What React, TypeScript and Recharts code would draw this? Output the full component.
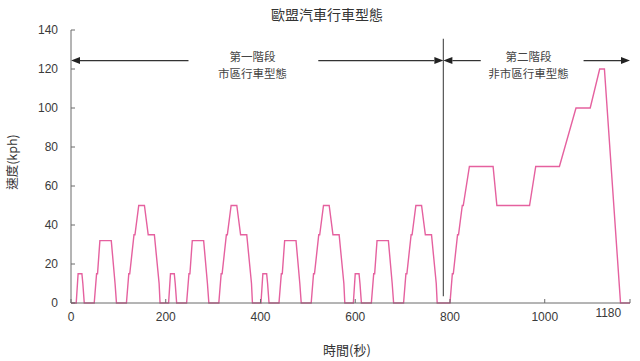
import React from "react";
import { LineChart, Line, XAxis, YAxis, ReferenceLine, ReferenceDot } from "recharts";

// one urban (ECE-15) cycle: breakpoints in seconds / km/h
const urbanTimes = [0, 11, 15, 23, 25, 28, 49, 54, 56, 61, 85, 93, 96, 117, 122, 124, 133, 135, 143, 155, 163, 176, 186, 188, 195];
const urbanSpeeds = [0, 0, 15, 15, 10, 0, 0, 15, 15, 32, 32, 10, 0, 0, 15, 15, 35, 35, 50, 50, 35, 35, 10, 0, 0];
const urbanStarts = [0, 195, 390, 585];

// extra-urban part, starts at 780 s
const extraStart = 780;
const extraTimes = [0, 20, 25, 27, 36, 38, 46, 48, 61, 111, 119, 188, 201, 251, 286, 316, 336, 346, 380, 400];
const extraSpeeds = [0, 0, 15, 15, 35, 35, 50, 50, 70, 70, 50, 50, 70, 70, 100, 100, 120, 120, 0, 0];

const xTicks = [0, 200, 400, 600, 800, 1000, 1180];
const yTicks = [0, 20, 40, 60, 80, 100, 120, 140];

const phaseSplit = 786;

const data: { t: number; v: number }[] = [];
urbanStarts.forEach((s) => {
  urbanTimes.forEach((t, i) => data.push({ t: s + t, v: urbanSpeeds[i] }));
});
extraTimes.forEach((t, i) => data.push({ t: extraStart + t, v: extraSpeeds[i] }));

const cjk = '"Noto Sans CJK TC", "Noto Sans CJK SC", sans-serif';
const latin = '"Liberation Sans", Arial, sans-serif';
const axisColor = "#6b6b6b";

const Arrow = (props: any) => {
  const { x1, y1, x2, y2 } = props;
  const dir = x2 > x1 ? 1 : -1;
  const L = 9;
  const W = 3.5;
  return (
    <g>
      <line x1={x1} y1={y1} x2={x2 - dir * L} y2={y2} stroke="#333" strokeWidth={1.2} />
      <polygon points={`${x2},${y2} ${x2 - dir * L},${y2 - W} ${x2 - dir * L},${y2 + W}`} fill="#222" />
    </g>
  );
};

const PhaseText = (lines: string[]) => (props: any) => {
  const { cx, cy } = props;
  return (
    <text x={cx} y={cy} textAnchor="middle" fontFamily={cjk} fontSize={11.5} fill="#444">
      {lines.map((l, i) => (
        <tspan key={i} x={cx} dy={i === 0 ? 0 : 17}>
          {l}
        </tspan>
      ))}
    </text>
  );
};

const XTick = (props: any) => {
  const { x, y, payload } = props;
  const last = payload.value === 1180;
  return (
    <text x={x + (last ? -16 : 0)} y={y + (last ? 10 : 14)} textAnchor="middle" fontFamily={latin} fontSize={12} fill="#3a3a3a">
      {payload.value}
    </text>
  );
};

export default function App() {
  return (
    <div style={{ position: "absolute", left: 0, top: 0, width: 640, height: 361, background: "#fff" }}>
      <div style={{ position: "absolute", left: 0, width: 654, top: 4, textAlign: "center", fontFamily: cjk, fontSize: 14, color: "#333" }}>
        歐盟汽車行車型態
      </div>
      <div style={{ position: "absolute", left: 0, width: 694, top: 340, textAlign: "center", fontFamily: cjk, fontSize: 13, color: "#333" }}>
        時間(秒)
      </div>
      <div
        style={{
          position: "absolute",
          left: 11,
          top: 162,
          transform: "translate(-50%, -50%) rotate(-90deg)",
          whiteSpace: "nowrap",
          fontFamily: cjk,
          fontSize: 12.5,
          color: "#333",
        }}
      >
        速度(kph)
      </div>
      <LineChart width={640} height={361} data={data} margin={{ top: 30, right: 10, bottom: 28, left: 0 }} style={{ position: "absolute", left: 0, top: 0 }}>
        <XAxis
          dataKey="t"
          type="number"
          domain={[0, 1180]}
          ticks={xTicks}
          tickSize={-4}
          tickMargin={8}
          stroke={axisColor}
          tick={<XTick />}
          height={30}
        />
        <XAxis xAxisId="top" orientation="top" type="number" domain={[0, 1180]} tick={false} tickLine={false} stroke={axisColor} height={0} />
        <YAxis
          type="number"
          domain={[0, 140]}
          ticks={yTicks}
          tickSize={-4}
          tickMargin={17}
          stroke={axisColor}
          width={71}
          tick={{ fontFamily: latin, fontSize: 12, fill: "#3a3a3a" }}
        />
        <YAxis yAxisId="right" orientation="right" domain={[0, 140]} tick={false} tickLine={false} stroke={axisColor} width={0} />
        <ReferenceLine segment={[{ x: phaseSplit, y: 135.5 }, { x: phaseSplit, y: 3.5 }]} stroke="#555" strokeWidth={1.2} />
        <ReferenceLine segment={[{ x: 248, y: 124.3 }, { x: 0, y: 124.3 }]} shape={Arrow} />
        <ReferenceLine segment={[{ x: 522, y: 124.3 }, { x: phaseSplit, y: 124.3 }]} shape={Arrow} />
        <ReferenceLine segment={[{ x: 865, y: 124.3 }, { x: phaseSplit, y: 124.3 }]} shape={Arrow} />
        <ReferenceLine segment={[{ x: 1082, y: 124.3 }, { x: 1180, y: 124.3 }]} shape={Arrow} />
        <ReferenceDot x={383} y={124.3} r={0} shape={PhaseText(["第一階段", "市區行車型態"])} />
        <ReferenceDot x={966} y={124.3} r={0} shape={PhaseText(["第二階段", "非市區行車型態"])} />
        <Line type="linear" dataKey="v" stroke="#e5619f" strokeWidth={1.4} dot={false} isAnimationActive={false} />
      </LineChart>
    </div>
  );
}
